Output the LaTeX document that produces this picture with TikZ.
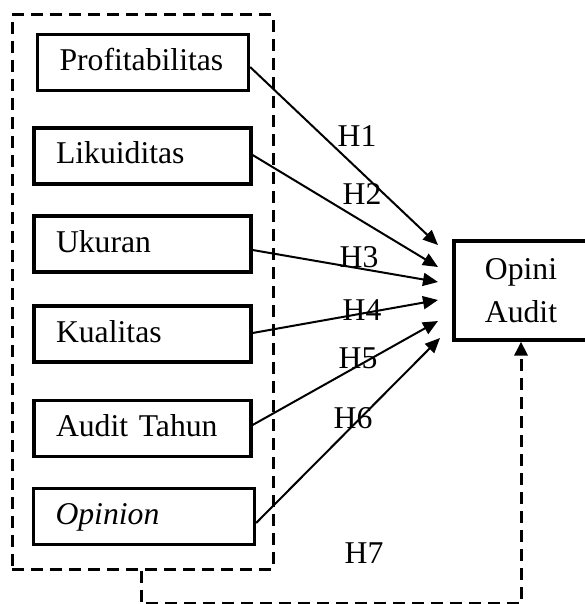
\documentclass[tikz,border=0pt]{standalone}
\usepackage{fontspec}
\setmainfont{Liberation Serif}
\usetikzlibrary{arrows.meta}
\newcommand{\fsz}{\fontsize{15.85}{21.5}\selectfont}
\begin{document}
\begin{tikzpicture}[x=0.5pt,y=-0.5pt,
  varbox/.style={draw, line width=1.6pt, inner xsep=11pt, inner ysep=0pt,
    minimum height=28pt, text height=0.8em, text depth=0pt, align=left, font=\fsz},
  lbl/.style={font=\fsz, inner sep=0pt},
  arr/.style={line width=1pt, -{Triangle[length=7.5pt,width=6.5pt]}},
  dashline/.style={line width=1.5pt, dash pattern=on 6pt off 3.5pt}
]
\useasboundingbox (0,0) rectangle (584,604);
% group
\node[draw, dashline, minimum width=130.5pt, minimum height=277pt, inner sep=0pt] (grp) at (142.5,292) {};
% variable boxes
\node[varbox, text width=83.5pt] (p) at (143,62.5) {Profitabilitas};
\node[varbox, text width=86.5pt] (l) at (142.5,156) {Likuiditas};
\node[varbox, text width=86.5pt] (u) at (142.5,244) {Ukuran};
\node[varbox, text width=86.5pt] (k) at (142.5,334) {Kualitas};
\node[varbox, text width=86.5pt] (a) at (142.5,428.5) {Audit Tahun};
\node[varbox, text width=88.5pt] (o) at (144,516.5) {\textit{Opinion}};
% dependent
\node[draw, line width=1.6pt, minimum width=67pt, minimum height=49.5pt, inner sep=0pt,
  align=center, font=\fsz] (oa) at (521,290.5) {Opini\\Audit};
% arrow targets
\coordinate (t1) at (438,245);
\coordinate (t2) at (438,267);
\coordinate (t3) at (438,282);
\coordinate (t4) at (438,300);
\coordinate (t5) at (438,321);
\coordinate (t6) at (440,338);
\draw[arr] ([yshift=-2.25pt]p.east) -- (t1);
\draw[arr] ([yshift=0.5pt]l.east) -- (t2);
\draw[arr] ([yshift=-3pt]u.east) -- (t3);
\draw[arr] ([yshift=0.5pt]k.east) -- (t4);
\draw[arr] ([yshift=1.75pt]a.east) -- (t5);
\draw[arr] ([yshift=-3.25pt]o.east) -- (t6);
% labels
\node[lbl] (h1) at (357,136) {H1};
\node[lbl] (h2) at (362,194) {H2};
\node[lbl] (h3) at (359,257) {H3};
\node[lbl] (h4) at (362,310) {H4};
\node[lbl] (h5) at (358,358) {H5};
\node[lbl] (h6) at (353,418) {H6};
\node[lbl] (h7) at (364,553) {H7};
% H7 connector
\draw[dashline, -{Triangle[length=7pt,width=6.5pt]}] ([xshift=-0.75pt]grp.south) -- ++(0,33) -| (oa.south);
\end{tikzpicture}
\end{document}
